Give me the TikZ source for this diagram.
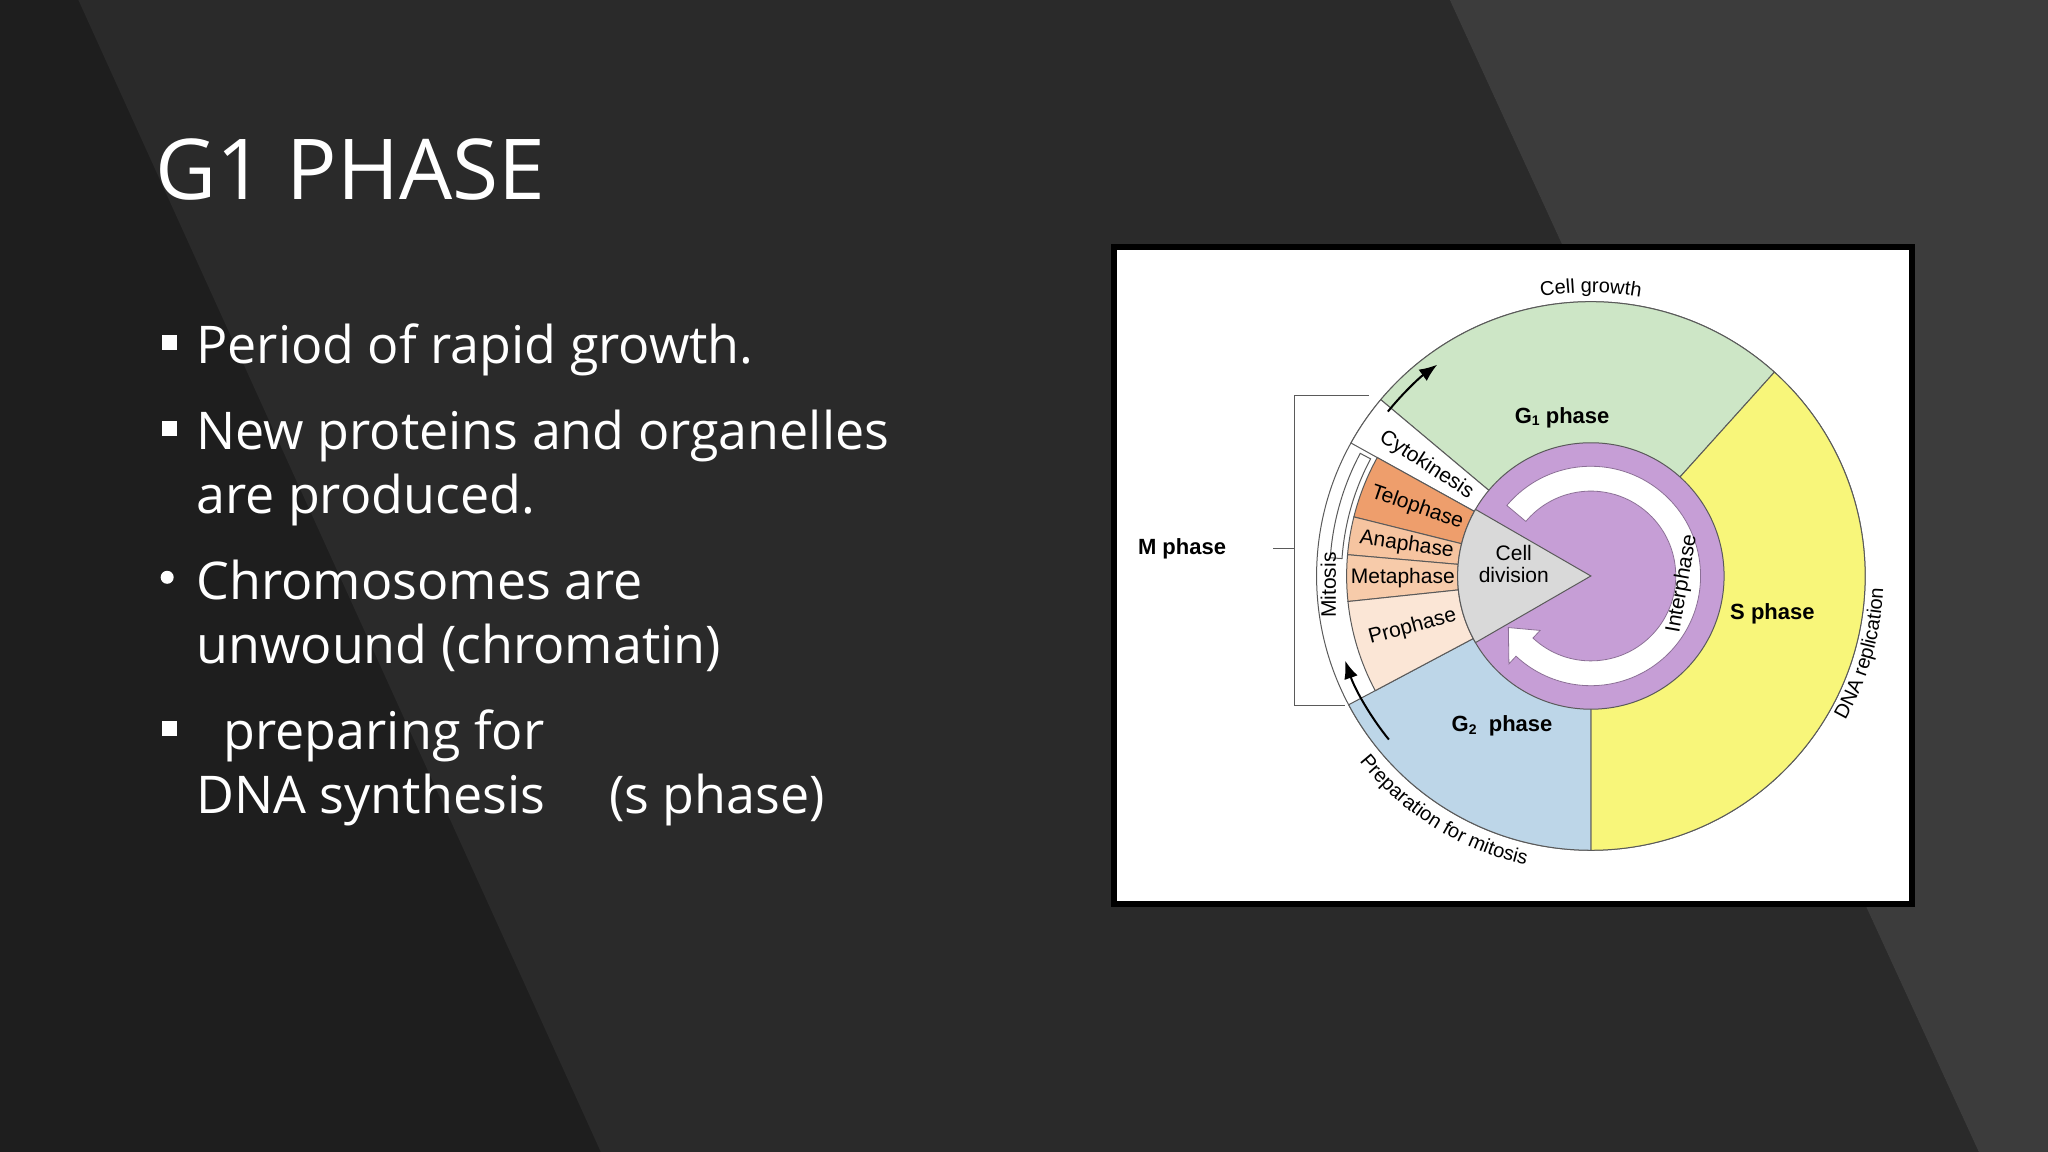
\documentclass[tikz,border=0pt]{standalone}
\usepackage{fontspec}
\setmainfont{Open Sans}
\newfontfamily\dg{Liberation Sans}
\usetikzlibrary{arrows.meta,decorations.text}
\definecolor{bgA}{HTML}{1E1E1E}
\definecolor{bgB}{HTML}{2A2A2A}
\definecolor{bgC}{HTML}{3C3C3C}
\definecolor{gone}{HTML}{CDE6C6}
\definecolor{sph}{HTML}{F8F67A}
\definecolor{gtwo}{HTML}{BDD6E8}
\definecolor{purp}{HTML}{C69ED6}
\definecolor{telo}{HTML}{EE9E6C}
\definecolor{ana}{HTML}{F6C4A0}
\definecolor{meta}{HTML}{F7CBAA}
\definecolor{pro}{HTML}{FBE6D6}
\definecolor{grayw}{HTML}{D9D9D9}
\definecolor{ol}{HTML}{5A5A5A}
\newcommand\secring[5]{\filldraw[#1] (#2:#4) -- (#2:#5) arc[start angle=#2,end angle=#3,radius=#5] -- (#3:#4) arc[start angle=#3,end angle=#2,radius=#4] -- cycle;}
\tikzset{
 bul/.style={anchor=base west,text=white,font=\fontsize{26}{30}\selectfont,inner sep=0},
 sq/.style={fill=white,minimum size=7.5pt,inner sep=0},
 lab/.style={font=\dg\fontsize{10.5}{11}\selectfont,inner sep=0},
 blab/.style={font=\dg\bfseries\fontsize{11}{12}\selectfont,inner sep=0},
 sec/.style={draw=ol,line width=0.5pt},
}
\begin{document}
\begin{tikzpicture}[x=0.653pt,y=0.653pt]
\useasboundingbox (0,0) rectangle (1568,882);
\fill[bgA] (0,0) rectangle (1568,882);
\fill[bgB] (60,882) -- (1110,882) -- (1515,0) -- (460,0) -- cycle;
\fill[bgC] (1110,882) -- (1568,882) -- (1568,0) -- (1515,0) -- cycle;

\node[anchor=base west,text=white,font=\fontsize{42}{46}\selectfont,inner sep=0] (title) at (119,729) {G1 PHASE};

\node[sq] (b1) at (130,620) {};
\node[bul] (t1) at (150,604) {Period of rapid growth.};
\node[sq] (b2) at (130,554) {};
\node[bul] (t2) at (150,538) {New proteins and organelles};
\node[bul] (t2b) at (150,489) {are produced.};
\node[circle,fill=white,minimum size=6.5pt,inner sep=0] (b3) at (128,440) {};
\node[bul] (t3) at (150,423) {Chromosomes are};
\node[bul] (t3b) at (150,374) {unwound (chromatin)};
\node[sq] (b4) at (130,324) {};
\node[bul] (t4) at (171,308) {preparing for};
\node[bul] (t4b) at (150,259) {DNA synthesis};
\node[bul] (t4c) at (466,259) {(s phase)};

% picture box
\filldraw[fill=white,draw=black,line width=3pt] (853,693) rectangle (1464,190);

\begin{scope}[shift={(1218,441)}]
 \filldraw[sec,fill=white] (0,0) circle[radius=210];
 \filldraw[sec,fill=gone] (0,0) -- (48:210) arc[start angle=48,end angle=140,radius=210] -- cycle;
 \filldraw[sec,fill=sph] (0,0) -- (-90:210) arc[start angle=-90,end angle=48,radius=210] -- cycle;
 \filldraw[sec,fill=gtwo] (0,0) -- (208:210) arc[start angle=208,end angle=270,radius=210] -- cycle;
 \secring{sec,fill=white}{140}{151}{100}{210}
 \secring{sec,fill=telo}{151}{166}{100}{187}
 \secring{sec,fill=ana}{166}{175}{100}{187}
 \secring{sec,fill=meta}{175}{186}{100}{187}
 \secring{sec,fill=pro}{186}{208}{100}{187}
 \secring{sec,fill=white}{152}{176}{191}{200}
 \filldraw[sec,fill=purp] (0,0) circle[radius=102];
 \filldraw[draw=purp!70!black,line width=0.4pt,fill=white] (140:84) arc[start angle=140,end angle=-133,radius=84] -- (-133:92) -- (-148:74.5) -- (-133:57) -- (-133:65) arc[start angle=-133,end angle=140,radius=65] -- cycle;
 \filldraw[sec,fill=grayw] (0,0) -- (150:102) arc[start angle=150,end angle=210,radius=102] -- cycle;
 \draw[-{Latex[length=9pt,width=7pt]},line width=1pt] (141:200) arc[start angle=141,end angle=126,radius=200];
 \draw[-{Latex[length=9pt,width=7pt]},line width=1pt] (219:199) arc[start angle=219,end angle=199,radius=199];
 \node[lab,rotate=-33] (cyto) at (146:152) {Cytokinesis};
 \node[lab,rotate=-19] (telot) at (158.5:143) {Telophase};
 \node[lab,rotate=-8] (anat) at (170.5:143) {Anaphase};
 \node[lab] (metat) at (180.5:144) {Metaphase};
 \node[lab,rotate=15] (prot) at (196:142) {Prophase};
 \path[decorate,decoration={text along path,text align=center,text={|\dg\fontsize{10}{10}\selectfont|Cell growth}}] (106:217) arc[start angle=106,end angle=74,radius=217];
 \path[decorate,decoration={text along path,text align=center,text={|\dg\fontsize{10}{10}\selectfont|DNA replication}}] (-42:224) arc[start angle=-42,end angle=10,radius=224];
 \path[decorate,decoration={text along path,text align=center,text={|\dg\fontsize{10}{10}\selectfont|Preparation for mitosis}}] (208:227) arc[start angle=208,end angle=268,radius=227];
\end{scope}

\node[lab,align=center] (celldiv) at (1159,450) {Cell\\division};
\node[lab,rotate=90] (mito) at (1017,434) {Mitosis};
\node[lab,rotate=80] (inter) at (1288,435) {Interphase};
\node[blab] (g1) at (1196,562) {G\raisebox{-0.2ex}{\fontsize{7}{7}\selectfont 1} phase};
\node[blab] (sp) at (1357,412) {S phase};
\node[blab] (g2) at (1150,326) {G\raisebox{-0.2ex}{\fontsize{7}{7}\selectfont 2}\ \ phase};
\node[blab] (mph) at (905,462) {M phase};
\coordinate (bt) at (1048,579);
\coordinate (bb) at (1030,342);
\coordinate (bm) at (975,462);
\draw[ol,line width=0.6pt] (bt) -- (991,579) -- (991,342) -- (bb);
\draw[ol,line width=0.6pt] (bm) -- (991,462);
\end{tikzpicture}
\end{document}
